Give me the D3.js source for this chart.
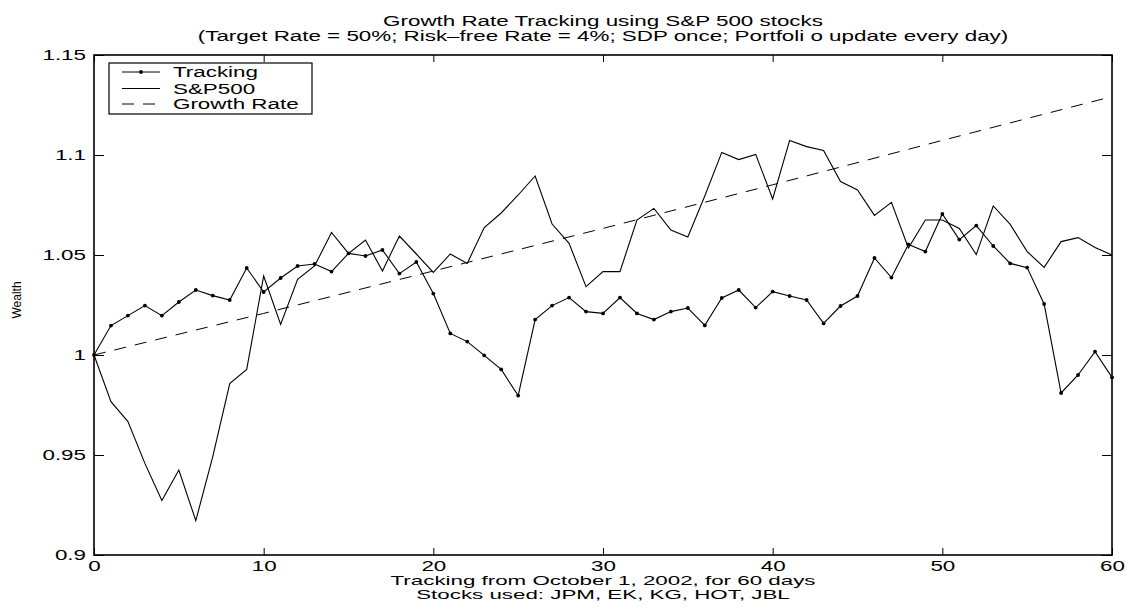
<!DOCTYPE html>
<html>
<head>
<meta charset="utf-8">
<script src="https://cdn.jsdelivr.net/npm/d3@7"></script>
<style>
  html, body { margin: 0; padding: 0; background: #fff; }
  svg { display: block; font-family: "Liberation Sans", Arial, Helvetica, sans-serif; }
</style>
</head>
<body>
<svg id="chart" width="1126" height="606"></svg>
<script>
// ---------- data ----------
const days = d3.range(0, 61);
const tracking = [
  1.000, 1.0147, 1.0197, 1.0247, 1.0197, 1.0265, 1.0325, 1.0297, 1.0275, 1.0435,
  1.0315, 1.0385, 1.0445, 1.0455, 1.0417, 1.0508, 1.0495, 1.0525, 1.0407, 1.0465,
  1.0307, 1.0108, 1.0067, 0.9998, 0.9928, 0.9797, 1.0177, 1.0247, 1.0287, 1.0217,
  1.0208, 1.0287, 1.0208, 1.0177, 1.0217, 1.0235, 1.0148, 1.0285, 1.0325, 1.0237,
  1.0317, 1.0295, 1.0275, 1.0158, 1.0245, 1.0295, 1.0485, 1.0387, 1.0553, 1.0517,
  1.0705, 1.0577, 1.0647, 1.0545, 1.0458, 1.0437, 1.0255, 0.9810, 0.9900, 1.0017, 0.9888
];
const sp500 = [
  1.000, 0.9767, 0.9667, 0.9458, 0.9272, 0.9425, 0.9172, 0.9492, 0.9857, 0.9928,
  1.0395, 1.0153, 1.0378, 1.0445, 1.0613, 1.0508, 1.0575, 1.0420, 1.0595, 1.0505,
  1.0413, 1.0505, 1.0458, 1.0637, 1.0710, 1.0800, 1.0895, 1.0655, 1.0558, 1.0342,
  1.0417, 1.0417, 1.0675, 1.0733, 1.0625, 1.0590, 1.0795, 1.1013, 1.0977, 1.1003,
  1.0780, 1.1073, 1.1042, 1.1023, 1.0867, 1.0825, 1.0698, 1.0763, 1.0535, 1.0675,
  1.0675, 1.0633, 1.0502, 1.0745, 1.0653, 1.0517, 1.0438, 1.0567, 1.0587, 1.0538, 1.0500
];
const growthDays = [0, 10, 20, 30, 40, 50, 60];
const growth = [1.0000, 1.0208, 1.0420, 1.0633, 1.0851, 1.1073, 1.1292];

const xTicks = [0, 10, 20, 30, 40, 50, 60];
const xTickLabels = ['0', '10', '20', '30', '40', '50', '60'];
const yTicks = [0.9, 0.95, 1.0, 1.05, 1.1, 1.15];
const yTickLabels = ['0.9', '0.95', '1', '1.05', '1.1', '1.15'];

const titleLines = [
  'Growth Rate Tracking using S&P 500 stocks',
  '(Target Rate = 50%; Risk\u2013free Rate = 4%; SDP once; Portfoli o update every day)'
];
const xLabelLines = [
  'Tracking from October 1, 2002, for 60 days',
  'Stocks used: JPM, EK, KG, HOT, JBL'
];
const yLabel = 'Wealth';
const legendLabels = ['Tracking', 'S&P500', 'Growth Rate'];

// ---------- layout ----------
const SX = 1.6;       // horizontal text stretch
const FS = 14;
const L = 94, R = 1112, T = 55, B = 555;

const svg = d3.select('#chart');
const x = d3.scaleLinear().domain([0, 60]).range([L, R]);
const y = d3.scaleLinear().domain([0.9, 1.15]).range([B, T]);

function stext(sel, px, py, str, anchor, size, sx) {
  return sel.append('text')
    .attr('transform', `translate(${px},${py}) scale(${sx || SX},1)`)
    .attr('text-anchor', anchor)
    .attr('font-size', size)
    .attr('fill', '#000')
    .text(str);
}

// ---------- data lines ----------
const lineT = d3.line().x((d, i) => x(days[i])).y(d => y(d));
svg.append('path').datum(sp500)
  .attr('d', lineT).attr('fill', 'none').attr('stroke', '#000').attr('stroke-width', 1.1);
svg.append('path').datum(tracking)
  .attr('d', lineT).attr('fill', 'none').attr('stroke', '#000').attr('stroke-width', 1.1);
svg.append('g').selectAll('circle').data(tracking).join('circle')
  .attr('cx', (d, i) => x(days[i])).attr('cy', d => y(d)).attr('r', 1.9).attr('fill', '#000');
const lineG = d3.line().x((d, i) => x(growthDays[i])).y(d => y(d));
svg.append('path').datum(growth)
  .attr('d', lineG).attr('fill', 'none').attr('stroke', '#000').attr('stroke-width', 1)
  .attr('stroke-dasharray', '12,9');

// ---------- axes ----------
function styleAxis(g) {
  g.select('.domain').remove();
  g.selectAll('.tick line').attr('stroke', '#000').attr('stroke-width', 1);
  g.selectAll('.tick text').each(function () {
    const t = d3.select(this);
    const tx = +t.attr('x') || 0, ty = +t.attr('y') || 0;
    t.attr('x', 0).attr('y', 0)
      .attr('transform', `translate(${tx},${ty}) scale(${SX},1)`)
      .attr('font-size', FS).attr('font-family', null).attr('fill', '#000');
  });
}
const gB = svg.append('g').attr('transform', `translate(0,${B})`)
  .call(d3.axisBottom(x).tickValues(xTicks).tickFormat((d, i) => xTickLabels[i]).tickSize(-7).tickPadding(6));
styleAxis(gB);
const gT = svg.append('g').attr('transform', `translate(0,${T})`)
  .call(d3.axisTop(x).tickValues(xTicks).tickFormat('').tickSize(-7));
styleAxis(gT);
const gL = svg.append('g').attr('transform', `translate(${L},0)`)
  .call(d3.axisLeft(y).tickValues(yTicks).tickFormat((d, i) => yTickLabels[i]).tickSize(-10).tickPadding(8));
styleAxis(gL);
const gR = svg.append('g').attr('transform', `translate(${R},0)`)
  .call(d3.axisRight(y).tickValues(yTicks).tickFormat('').tickSize(-10));
styleAxis(gR);

svg.append('rect').attr('x', L).attr('y', T).attr('width', R - L).attr('height', B - T)
  .attr('fill', 'none').attr('stroke', '#000').attr('stroke-width', 1.6);

// ---------- titles / labels ----------
const cx = (L + R) / 2;
stext(svg, cx, 26, titleLines[0], 'middle', FS);
stext(svg, cx, 41, titleLines[1], 'middle', FS);
stext(svg, cx, 585, xLabelLines[0], 'middle', 13, 1.72);
stext(svg, cx, 599, xLabelLines[1], 'middle', 13, 1.72);
svg.append('text')
  .attr('transform', `translate(21,300) rotate(-90)`)
  .attr('text-anchor', 'middle').attr('font-size', 12).attr('fill', '#000')
  .text(yLabel);

// ---------- legend ----------
const lg = svg.append('g');
lg.append('rect').attr('x', 109).attr('y', 63).attr('width', 203).attr('height', 51)
  .attr('fill', '#fff').attr('stroke', '#000').attr('stroke-width', 1.2);
const legY = [72, 88.5, 104];
lg.append('line').attr('x1', 122).attr('x2', 160).attr('y1', legY[0]).attr('y2', legY[0]).attr('stroke', '#000');
lg.append('circle').attr('cx', 141).attr('cy', legY[0]).attr('r', 1.9).attr('fill', '#000');
lg.append('line').attr('x1', 122).attr('x2', 160).attr('y1', legY[1]).attr('y2', legY[1]).attr('stroke', '#000');
lg.append('line').attr('x1', 122).attr('x2', 160).attr('y1', legY[2]).attr('y2', legY[2]).attr('stroke', '#000')
  .attr('stroke-dasharray', '12,9');
legendLabels.forEach((s, i) => stext(lg, 173, legY[i] + 5, s, 'start', FS));
</script>
</body>
</html>
